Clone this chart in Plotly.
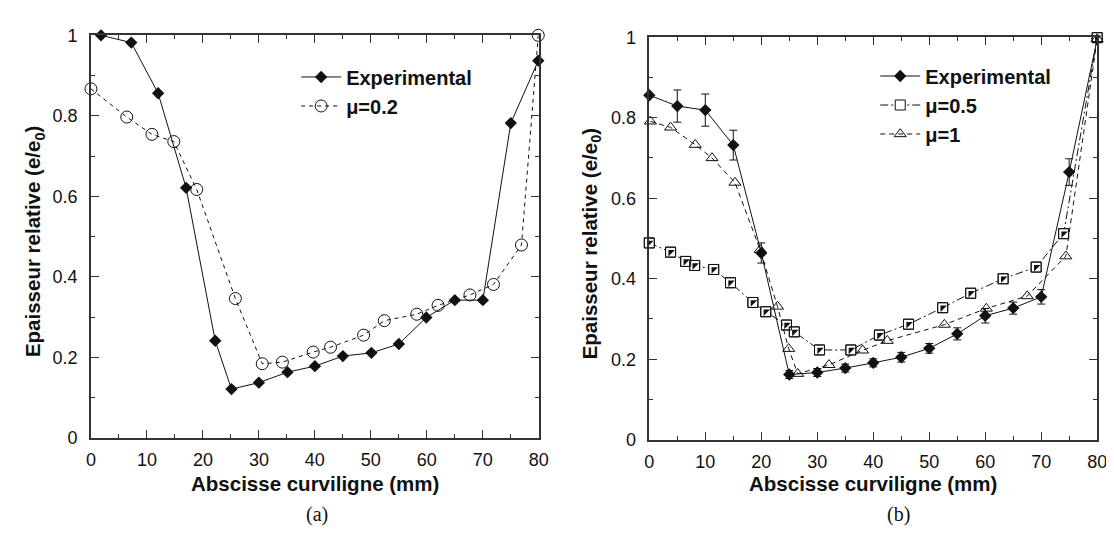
import plotly.graph_objects as go

W, H = 1114, 538

# (a) Experimental vs mu=0.2
exp_a_x = [1.8, 7.2, 12.0, 17.0, 22.2, 25.1, 30.0, 35.1, 40.0, 45.0, 50.1, 55.0, 59.9, 65.0, 70.0, 75.0, 79.9]
exp_a_y = [1.0, 0.982, 0.856, 0.621, 0.241, 0.121, 0.137, 0.163, 0.178, 0.203, 0.211, 0.233, 0.299, 0.342, 0.342, 0.782, 0.937]

mu02_x = [0.0, 6.4, 10.9, 14.8, 18.9, 25.8, 30.6, 34.2, 39.7, 42.8, 48.7, 52.4, 58.2, 62.0, 67.7, 71.9, 76.9, 79.9]
mu02_y = [0.867, 0.797, 0.754, 0.736, 0.617, 0.346, 0.184, 0.188, 0.213, 0.225, 0.255, 0.291, 0.307, 0.329, 0.355, 0.381, 0.479, 1.0]

# (b) Experimental with error bars, mu=0.5, mu=1
exp_b_x = [0, 5, 10, 15, 20, 25, 30, 35, 40, 45, 50, 55, 60, 65, 70, 75, 80]
exp_b_y = [0.856, 0.829, 0.819, 0.732, 0.464, 0.162, 0.167, 0.178, 0.191, 0.205, 0.227, 0.263, 0.308, 0.327, 0.355, 0.665, 0.996]
exp_b_err = [0.0, 0.04, 0.04, 0.037, 0.025, 0.01, 0.01, 0.01, 0.01, 0.012, 0.012, 0.015, 0.018, 0.015, 0.018, 0.033, 0.0]

mu05_x = [0.0, 3.8, 6.5, 8.1, 11.5, 14.5, 18.5, 20.8, 24.5, 25.9, 30.4, 36.0, 41.1, 46.3, 52.4, 57.4, 63.2, 69.1, 74.0, 80.0]
mu05_y = [0.489, 0.466, 0.443, 0.433, 0.423, 0.390, 0.341, 0.318, 0.285, 0.268, 0.223, 0.223, 0.260, 0.287, 0.328, 0.364, 0.400, 0.429, 0.512, 0.999]

mu1_x = [0.2, 3.8, 8.2, 11.2, 15.3, 19.8, 22.9, 24.9, 26.5, 32.1, 38.1, 42.5, 52.7, 60.2, 67.5, 74.4, 80.0]
mu1_y = [0.791, 0.776, 0.733, 0.700, 0.639, 0.472, 0.331, 0.226, 0.164, 0.186, 0.222, 0.246, 0.286, 0.326, 0.357, 0.456, 0.996]

x_ticks = [0, 10, 20, 30, 40, 50, 60, 70, 80]
y_ticks = [0, 0.2, 0.4, 0.6, 0.8, 1]

FONT = "Liberation Sans, Arial, sans-serif"
INK = "#111"


def px_x(p):
    return p / W


def px_y(p):
    return 1 - p / H


fig = go.Figure()

# ---- panel (a)
fig.add_trace(go.Scatter(
    x=exp_a_x, y=exp_a_y, name="Experimental", mode="lines+markers",
    line=dict(color=INK, width=1),
    marker=dict(symbol="diamond", size=9.5, color=INK),
    cliponaxis=False, xaxis="x", yaxis="y", legend="legend",
))
fig.add_trace(go.Scatter(
    x=mu02_x, y=mu02_y, name="\u03bc=0.2", mode="lines+markers",
    line=dict(color=INK, width=1, dash="4px,4px"),
    marker=dict(symbol="circle-open", size=12, color=INK, line=dict(width=1)),
    cliponaxis=False, xaxis="x", yaxis="y", legend="legend",
))

# ---- panel (b)
fig.add_trace(go.Scatter(
    x=exp_b_x, y=exp_b_y, name="Experimental", mode="lines+markers",
    line=dict(color=INK, width=1),
    marker=dict(symbol="diamond", size=9.5, color=INK),
    error_y=dict(type="data", array=exp_b_err, color=INK, thickness=1, width=4),
    cliponaxis=False, xaxis="x2", yaxis="y2", legend="legend2",
))
fig.add_trace(go.Scatter(
    x=mu05_x, y=mu05_y, name="\u03bc=0.5", mode="lines+markers",
    line=dict(color=INK, width=1, dash="8px,3px,2px,3px"),
    marker=dict(symbol="square", size=10, color="white", line=dict(color=INK, width=1)),
    cliponaxis=False, xaxis="x2", yaxis="y2", legend="legend2",
))
# half-filled square: dark corner, then the outline again on top
fig.add_trace(go.Scatter(
    x=mu05_x, y=mu05_y, mode="markers", showlegend=False, hoverinfo="skip",
    marker=dict(symbol="triangle-nw", size=7.2, color=INK, line=dict(width=0)),
    cliponaxis=False, xaxis="x2", yaxis="y2",
))
fig.add_trace(go.Scatter(
    x=mu05_x, y=mu05_y, mode="markers", showlegend=False, hoverinfo="skip",
    marker=dict(symbol="square-open", size=10, color=INK, line=dict(width=1)),
    cliponaxis=False, xaxis="x2", yaxis="y2",
))
fig.add_trace(go.Scatter(
    x=mu1_x, y=mu1_y, name="\u03bc=1", mode="lines+markers",
    line=dict(color=INK, width=1, dash="5px,4px"),
    marker=dict(symbol="triangle-up-open", size=10.5, color=INK, line=dict(width=1)),
    cliponaxis=False, xaxis="x2", yaxis="y2", legend="legend2",
))

axis_common = dict(
    showline=True, linecolor="#333", linewidth=1.5, mirror="ticks",
    ticks="inside", ticklen=8, tickwidth=1, tickcolor="#333",
    showgrid=False, zeroline=False,
    tickfont=dict(family=FONT, size=18, color=INK),
)
xaxis_common = dict(axis_common, range=[0, 80], tickvals=x_ticks, ticklabelstandoff=5,
                    minor=dict(ticks="inside", ticklen=4, dtick=5, tickcolor="#333", showgrid=False))
yaxis_common = dict(axis_common, range=[0, 1], tickvals=y_ticks, ticklabelstandoff=8,
                    minor=dict(ticks="inside", ticklen=4, dtick=0.1, tickcolor="#333", showgrid=False))

legend_common = dict(
    bgcolor="rgba(0,0,0,0)", font=dict(family=FONT, size=20, color=INK, weight="bold"),
    itemwidth=40, tracegroupgap=0, xanchor="left", yanchor="top",
)

fig.update_layout(
    width=W, height=H,
    margin=dict(l=0, r=0, t=0, b=0),
    paper_bgcolor="white", plot_bgcolor="white",
    xaxis=dict(xaxis_common, domain=[px_x(79), px_x(533)], anchor="y"),
    yaxis=dict(yaxis_common, domain=[px_y(436), px_y(18)], anchor="x"),
    xaxis2=dict(xaxis_common, domain=[px_x(645), px_x(1099)], anchor="y2"),
    yaxis2=dict(yaxis_common, domain=[px_y(438), px_y(20)], anchor="x2"),
    legend=dict(legend_common, x=px_x(287), y=px_y(41)),
    legend2=dict(legend_common, x=px_x(874), y=px_y(40)),
)

title_font = dict(family=FONT, size=20.5, color=INK, weight="bold")
labels = [
    (306, 483, "Abscisse curviligne (mm)", 0),
    (872, 483, "Abscisse curviligne (mm)", 0),
    (22, 232, "Epaisseur relative (e/e<sub>0</sub>)", -90),
    (586, 235, "Epaisseur relative (e/e<sub>0</sub>)", -90),
]
for x, y, text, ang in labels:
    fig.add_annotation(x=px_x(x), y=px_y(y), xref="paper", yref="paper", text=text,
                       textangle=ang, showarrow=False, font=title_font,
                       xanchor="center", yanchor="middle")

for x, y, text in [(308, 516, "(a)"), (898, 516, "(b)")]:
    fig.add_annotation(x=px_x(x), y=px_y(y), xref="paper", yref="paper", text=text,
                       showarrow=False, font=dict(family="Liberation Serif, Times New Roman, serif",
                                                  size=20, color=INK),
                       xanchor="center", yanchor="middle")

fig.write_html("out.html")
